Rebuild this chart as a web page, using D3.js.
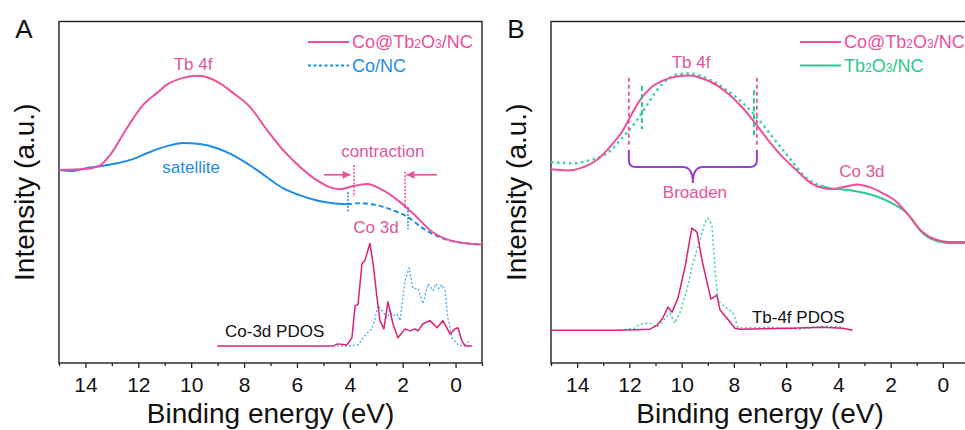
<!DOCTYPE html>
<html lang="en">
<head>
<meta charset="UTF-8">
<title>Valence band spectra</title>
<script src="https://cdn.jsdelivr.net/npm/d3@7"></script>
<style>
  body{margin:0;background:#fff;}
  svg{display:block;font-family:"Liberation Sans",Arial,Helvetica,sans-serif;}
</style>
</head>
<body>
<div id="chart"></div>
<script>
// ---------- data (binding energy eV, intensity a.u.) ----------
var majorTicks = [14, 12, 10, 8, 6, 4, 2, 0];
var minorTicks = [15, 13, 11, 9, 7, 5, 3, 1, -1];

// panel A - measured spectra
var coTbA = [[15,56.5],[14.02,56.8],[13.45,57.9],[13.07,60.9],[12.43,68.8],[11.82,75.6],[11.29,79.1],[10.92,81.5],[10.31,83.5],[9.74,84.1],[9.02,82.4],[8.42,79.1],[7.78,75.0],[7.13,68.2],[6.53,62.4],[5.88,57.4],[5.24,53.5],[4.64,51.2],[4.37,50.9],[3.88,51.8],[3.35,52.4],[2.75,50.6],[2.10,47.1],[1.61,43.8],[0.85,38.2],[0.21,35.9],[-0.43,35.0],[-1,34.7]];
var coNcA = [[15,56.5],[14.47,56.2],[13.94,57.1],[13.45,57.6],[12.81,58.5],[12.2,59.7],[11.56,61.8],[10.92,63.5],[10.31,64.4],[9.67,64.1],[9.02,62.9],[8.42,60.9],[7.78,57.9],[7.13,54.4],[6.53,51.2],[5.88,49.1],[5.24,47.6],[4.64,46.8],[4.11,46.5]];
var coNcADash = [[4.11,46.5],[3.62,46.8],[2.97,46.2],[2.37,44.7],[1.84,42.9],[1.23,39.4],[0.59,36.8],[-0.17,35.3],[-1,34.7]];
// panel A - Co-3d PDOS
var pdosCoTbA = [[9.02,5.0],[4.64,5.0],[4.45,5.6],[4.11,5.3],[3.92,7.4],[3.80,16.8],[3.69,17.1],[3.54,29.1],[3.43,30.0],[3.24,35.0],[3.12,29.1],[2.97,19.1],[2.86,12.4],[2.71,10.0],[2.56,17.9],[2.48,15.3],[2.37,11.5],[2.18,7.4],[1.91,10],[1.72,9.4],[1.54,10],[1.42,9.4],[1.23,11.5],[0.97,12.4],[0.70,10.3],[0.48,12.4],[0.21,8.5],[0.02,10],[-0.09,10.3],[-0.24,6.5],[-0.36,5],[-0.62,5]];
var pdosCoNcA = [[4.64,5.0],[4.11,5.0],[3.69,5.3],[3.35,8.8],[3.16,10.0],[3.05,12.9],[2.93,16.8],[2.78,15.3],[2.59,13.2],[2.48,15.3],[2.37,13.8],[2.22,14.4],[2.10,12.4],[1.91,24.1],[1.76,27.9],[1.61,21.8],[1.42,21.8],[1.23,17.4],[1.04,23.2],[0.85,21.2],[0.74,23.2],[0.63,21.8],[0.51,22.9],[0.40,21.2],[0.29,13.2],[0.14,7.4],[-0.05,5.6],[-0.28,5.0],[-0.54,6.5]];

// panel B - measured spectra
var coTbB = [[15,56.7],[14.39,56.4],[13.78,57.3],[13.13,60.2],[12.63,64.3],[12.25,68.1],[11.98,71.9],[11.60,76.9],[11.21,80.4],[10.72,82.7],[10.18,83.9],[9.68,84.2],[9.19,83.3],[8.65,81.3],[8.15,78.4],[7.65,74.6],[7.12,69.6],[6.62,64.6],[6.12,60.2],[5.59,56.4],[5.09,52.9],[4.59,51.2],[4.33,50.9],[3.83,51.5],[3.29,52.3],[2.80,51.5],[2.30,49.7],[1.76,47.1],[1.38,43.9],[0.77,38.3],[0.23,36.0],[-0.26,35.4],[-1,35.4]];
var tbB = [[15,58.8],[14.16,58.5],[13.51,59.4],[12.86,61.4],[12.25,66.1],[11.71,71.1],[11.21,76.9],[10.72,81.9],[10.18,84.5],[9.68,84.8],[9.03,83.3],[8.42,80.7],[7.77,76.9],[7.12,71.9],[6.51,66.1],[5.86,59.9],[5.21,54.1],[4.71,52.0]];
var tbBSolid = [[4.71,52.0],[4.33,51.2],[3.56,50.6],[2.80,49.4],[2.03,47.1],[1.38,43.9],[0.77,38.0],[0.23,35.7],[-0.26,35.1],[-1,35.1]];
// panel B - Tb-4f PDOS
var pdosCoTbB = [[15,9.6],[12.36,9.6],[11.21,9.9],[10.94,11.1],[10.72,13.2],[10.52,16.4],[10.37,14.9],[10.14,19.0],[9.87,28.1],[9.61,39.5],[9.41,38.3],[9.22,30.1],[8.88,18.7],[8.65,19.9],[8.53,15.5],[8.27,13.2],[7.96,10.2],[7.77,9.9],[5.86,10.2],[4.59,10.5],[3.83,10.2],[3.45,9.6]];
var pdosTbB = [[12.36,9.6],[11.79,10.2],[11.60,11.4],[11.21,11.7],[10.94,10.5],[10.72,12.3],[10.45,14.6],[10.26,11.7],[10.07,14.6],[9.80,21.3],[9.57,29.2],[9.30,36.0],[9.11,41.2],[8.99,42.4],[8.84,40.4],[8.73,28.1],[8.61,18.4],[8.34,16.4],[8.04,14.9],[7.85,10.5],[7.65,10.2],[6.62,10.5],[5.47,9.9],[4.59,10.8],[3.83,10.5]];

// ---------- styles ----------
var PINK = '#ec4f9d', PINK_TXT = '#e2559c', PDOS_PINK = '#db2077';
var BLUE = '#1f8ce6', LBLUE = '#4aaaf0', GREEN = '#2cc98c', LGREEN = '#3dd2a0', PURPLE = '#9b3fc9';

var svg = d3.select('#chart').append('svg').attr('width', 965).attr('height', 430);

var defs = svg.append('defs');
defs.append('marker').attr('id', 'arrow').attr('viewBox', '0 0 10 10')
    .attr('refX', 10).attr('refY', 5).attr('markerWidth', 9).attr('markerHeight', 8)
    .attr('markerUnits', 'userSpaceOnUse').attr('orient', 'auto')
    .append('path').attr('d', 'M0,0 L10,5 L0,10 z').attr('fill', PINK);

function makePanel(L, R, label) {
    var T = 21.5, B = 363;
    var x = d3.scaleLinear().domain([15, -1]).range([L, R]);
    var y = d3.scaleLinear().domain([0, 100]).range([B, T]);
    var g = svg.append('g');

    // frame
    g.append('rect').attr('x', L).attr('y', T).attr('width', R - L).attr('height', B - T)
        .attr('fill', 'none').attr('stroke', '#222').attr('stroke-width', 1.4);

    var ax = g.append('g').attr('transform', 'translate(0,' + B + ')')
        .call(d3.axisBottom(x).tickValues(majorTicks).tickSize(5).tickPadding(9).tickFormat(d3.format('d')));
    ax.select('.domain').remove();
    ax.selectAll('line').attr('stroke', '#222').attr('stroke-width', 1.3);
    ax.selectAll('text').style('font-size', '21px').attr('fill', '#111');

    var axm = g.append('g').attr('transform', 'translate(0,' + B + ')')
        .call(d3.axisBottom(x).tickValues(minorTicks).tickSize(3).tickFormat(''));
    axm.select('.domain').remove();
    axm.selectAll('line').attr('stroke', '#222').attr('stroke-width', 1.3);

    g.append('text').text('Binding energy (eV)')
        .attr('x', (L + R) / 2).attr('y', 423)
        .attr('text-anchor', 'middle').style('font-size', '28px').attr('fill', '#111');

    g.append('text').text('Intensity (a.u.)')
        .attr('transform', 'translate(' + (L - 25) + ',' + ((T + B) / 2) + ') rotate(-90)')
        .attr('text-anchor', 'middle').style('font-size', '28px').attr('fill', '#111');

    g.append('text').text(label).attr('x', L - 35).attr('y', 38)
        .attr('text-anchor', 'middle').style('font-size', '26px').attr('fill', '#111');

    return {x: x, y: y, g: g, L: L, T: T};
}

function drawLine(p, data, color, width, dash, curve) {
    var line = d3.line()
        .x(function(d) { return p.x(d[0]); })
        .y(function(d) { return p.y(d[1]); })
        .curve(curve || d3.curveMonotoneX);
    p.g.append('path').datum(data).attr('d', line)
        .attr('fill', 'none').attr('stroke', color).attr('stroke-width', width)
        .attr('stroke-dasharray', dash || null).attr('stroke-linejoin', 'round');
}

function label(p, txt, ev, val, color, size, anchor) {
    return p.g.append('text').text(txt).attr('x', p.x(ev)).attr('y', p.y(val))
        .attr('text-anchor', anchor || 'middle').style('font-size', (size || 17) + 'px').attr('fill', color);
}

// legend entry; parts: [text, isSub]
function legend(p, row, parts, color, lineColor, dash) {
    var ly = p.T + 20.5 + row * 23.5;
    p.g.append('line').attr('x1', p.L + 249).attr('x2', p.L + 290).attr('y1', ly).attr('y2', ly)
        .attr('stroke', lineColor).attr('stroke-width', 2).attr('stroke-dasharray', dash || null);
    var t = p.g.append('text').attr('x', p.L + 293).attr('y', ly + 6).attr('fill', color).style('font-size', '18px');
    parts.forEach(function(pt) {
        t.append('tspan').text(pt[0]).style('font-size', pt[1] ? '12px' : '18px');
    });
}

function vline(p, ev, v0, v1, color, dash, w) {
    p.g.append('line').attr('x1', p.x(ev)).attr('x2', p.x(ev)).attr('y1', p.y(v0)).attr('y2', p.y(v1))
        .attr('stroke', color).attr('stroke-width', w || 1.5).attr('stroke-dasharray', dash);
}

// ---------- panel A ----------
var pA = makePanel(59, 482, 'A');
drawLine(pA, pdosCoNcA, LBLUE, 1.3, '2,2', d3.curveLinear);
drawLine(pA, pdosCoTbA, PDOS_PINK, 1.5, null, d3.curveLinear);
drawLine(pA, coNcA, BLUE, 2);
drawLine(pA, coNcADash, BLUE, 2, '5,3');
drawLine(pA, coTbA, PINK, 2);

label(pA, 'Tb 4f', 9.93, 85.8, PINK_TXT);
label(pA, 'satellite', 10.0, 55.6, BLUE);
label(pA, 'contraction', 2.75, 60.3, PINK_TXT);
label(pA, 'Co 3d', 3.01, 38.1, PINK_TXT);
label(pA, 'Co-3d PDOS', 8.72, 7.6, '#111', 17, 'start');

vline(pA, 3.84, 58.0, 48.6, PINK, '2,1.5');
vline(pA, 1.91, 56.0, 45.4, PINK, '2,1.5');
vline(pA, 4.07, 50.1, 44.2, BLUE, '2,1.5');
vline(pA, 1.80, 45.7, 39.2, BLUE, '2,1.5');
[[4.98, 3.97], [0.70, 1.86]].forEach(function(a) {
    pA.g.append('line').attr('x1', pA.x(a[0])).attr('x2', pA.x(a[1]))
        .attr('y1', pA.y(55.1)).attr('y2', pA.y(55.1))
        .attr('stroke', PINK).attr('stroke-width', 1.6).attr('marker-end', 'url(#arrow)');
});

legend(pA, 0, [['Co@Tb', 0], ['2', 1], ['O', 0], ['3', 1], ['/NC', 0]], PINK, PINK);
legend(pA, 1, [['Co/NC', 0]], BLUE, BLUE, '3,2.5');

// ---------- panel B ----------
var pB = makePanel(551, 969, 'B');
drawLine(pB, pdosTbB, LGREEN, 1.5, '2,2.5', d3.curveLinear);
drawLine(pB, pdosCoTbB, PDOS_PINK, 1.5, null, d3.curveLinear);
drawLine(pB, tbB, LGREEN, 2.5, '2.5,3.5');
drawLine(pB, tbBSolid, GREEN, 2);
drawLine(pB, coTbB, PINK, 2);

label(pB, 'Tb 4f', 9.64, 86.5, PINK_TXT);
label(pB, 'Co 3d', 3.10, 54.5, PINK_TXT);
label(pB, 'Broaden', 9.49, 48.3, PINK_TXT);
label(pB, 'Tb-4f PDOS', 7.31, 11.7, '#111', 17, 'start');

vline(pB, 12.02, 83.5, 63.0, PINK, '4,3', 1.8);
vline(pB, 7.12, 83.5, 63.0, PINK, '4,3', 1.8);
vline(pB, 11.52, 81.1, 68.5, GREEN, '5,3', 2);
vline(pB, 7.23, 79.9, 65.9, GREEN, '5,3', 2);

// brace under the Tb 4f band
(function() {
    var xl = pB.x(12.02), xr = pB.x(7.12), xc = pB.x(9.57);
    var yt = pB.y(62.4), yh = pB.y(57.4), ytip = pB.y(52.7);
    var d = 'M' + xl + ',' + yt + ' L' + xl + ',' + (yh - 7) + ' Q' + xl + ',' + yh + ' ' + (xl + 7) + ',' + yh +
        ' L' + (xc - 10) + ',' + yh + ' Q' + xc + ',' + yh + ' ' + xc + ',' + ytip +
        ' Q' + xc + ',' + yh + ' ' + (xc + 10) + ',' + yh +
        ' L' + (xr - 7) + ',' + yh + ' Q' + xr + ',' + yh + ' ' + xr + ',' + (yh - 7) + ' L' + xr + ',' + yt;
    pB.g.append('path').attr('d', d).attr('fill', 'none').attr('stroke', PURPLE).attr('stroke-width', 2);
})();

legend(pB, 0, [['Co@Tb', 0], ['2', 1], ['O', 0], ['3', 1], ['/NC', 0]], PINK, PINK);
legend(pB, 1, [['Tb', 0], ['2', 1], ['O', 0], ['3', 1], ['/NC', 0]], GREEN, GREEN);
</script>
</body>
</html>
